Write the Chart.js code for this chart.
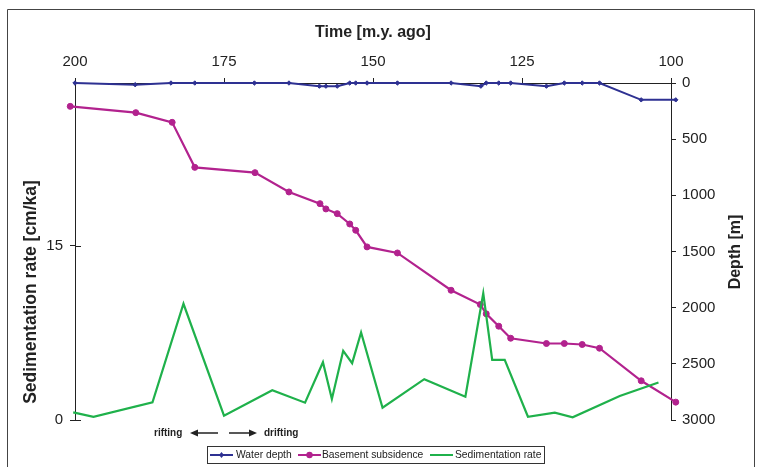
<!DOCTYPE html>
<html>
<head>
<meta charset="utf-8">
<script src="https://cdn.jsdelivr.net/npm/chart.js@4"></script>
<style>
    html, body { margin: 0; padding: 0; background: #fff; }
    #wrap { width: 760px; height: 467px; position: relative; }
</style>
</head>
<body>
<div id="wrap"><canvas id="chart" width="760" height="467"></canvas></div>
<script>
// Time of each sample (m.y. ago) and values
const waterTime = [200, 189.9, 183.9, 179.9, 169.9, 164.1, 159.0, 157.9, 156.0, 153.9, 152.9, 151.0, 145.9, 136.9, 131.9, 131.0, 128.9, 126.9, 120.9, 117.9, 114.9, 112.0, 105.0, 99.2];
const waterDepth = [0, 15, 0, 0, 0, 0, 28, 28, 28, 0, 0, 0, 0, 0, 28, 0, 0, 0, 28, 0, 0, 0, 150, 150];

const subsTime = [200.8, 189.8, 183.7, 179.9, 169.8, 164.1, 158.9, 157.9, 156.0, 153.9, 152.9, 151.0, 145.9, 136.9, 132.0, 131.0, 128.9, 126.9, 120.9, 117.9, 114.9, 112.0, 105.0, 99.2];
const subsDepth = [208, 264, 350, 751, 798, 970, 1074, 1121, 1163, 1255, 1311, 1459, 1513, 1845, 1972, 2055, 2165, 2272, 2319, 2319, 2328, 2361, 2651, 2841];

const sedTime = [200.3, 196.9, 187.0, 181.8, 175.0, 166.9, 161.4, 158.4, 156.9, 155.0, 153.5, 152.0, 148.4, 141.4, 134.5, 131.5, 130.0, 127.9, 124.0, 119.5, 116.5, 108.6, 102.1];
const sedRate = [0.66, 0.28, 1.53, 10.0, 0.37, 2.56, 1.49, 4.97, 1.81, 5.95, 4.89, 7.53, 1.06, 3.51, 2.01, 10.9, 5.17, 5.17, 0.28, 0.63, 0.23, 2.07, 3.22];

const timeTicks = [200, 175, 150, 125, 100];
const depthTicks = [0, 500, 1000, 1500, 2000, 2500, 3000];
const rateTicks = [0, 15];

const seriesNames = ['Water depth', 'Basement subsidence', 'Sedimentation rate'];
const seriesColors = ['#2e3192', '#b2228e', '#1fb14b'];

const FONT = "'Liberation Sans', Arial, sans-serif";
const INK = '#222';

Chart.defaults.font.family = FONT;
Chart.defaults.color = INK;

function pairs(xs, ys) {
    return xs.map((x, i) => ({ x: x, y: ys[i] }));
}

// frame, titles, annotation and boxed legend
const extrasPlugin = {
    id: 'extras',
    afterDraw(chart) {
        const ctx = chart.ctx;
        ctx.save();

        // outer frame (open at the bottom)
        ctx.strokeStyle = '#444';
        ctx.lineWidth = 1;
        ctx.beginPath();
        ctx.moveTo(7.5, 467);
        ctx.lineTo(7.5, 9.5);
        ctx.lineTo(754.5, 9.5);
        ctx.lineTo(754.5, 467);
        ctx.stroke();

        // crossing tick marks on the left axis
        const ys = chart.scales.y;
        ctx.strokeStyle = INK;
        ctx.beginPath();
        rateTicks.forEach(v => {
            const py = Math.round(ys.getPixelForValue(v)) + 0.5;
            ctx.moveTo(75, py); ctx.lineTo(81, py);
        });
        ctx.stroke();

        // axis titles
        ctx.fillStyle = INK;
        ctx.font = 'bold 16px ' + FONT;
        ctx.textAlign = 'center';
        ctx.textBaseline = 'middle';
        ctx.fillText('Time [m.y. ago]', 373, 33);

        ctx.save();
        ctx.translate(31, 292);
        ctx.rotate(-Math.PI / 2);
        ctx.font = 'bold 17.5px ' + FONT;
        ctx.fillText('Sedimentation rate [cm/ka]', 0, 0);
        ctx.restore();

        ctx.save();
        ctx.translate(736, 252);
        ctx.rotate(-Math.PI / 2);
        ctx.font = 'bold 16px ' + FONT;
        ctx.fillText('Depth [m]', 0, 0);
        ctx.restore();

        // rifting / drifting annotation
        ctx.font = 'bold 10px ' + FONT;
        ctx.textAlign = 'left';
        ctx.fillText('rifting', 154, 433);
        ctx.fillText('drifting', 264, 433);
        ctx.strokeStyle = INK;
        ctx.lineWidth = 1.5;
        ctx.beginPath();
        ctx.moveTo(218, 433); ctx.lineTo(196, 433);
        ctx.moveTo(229, 433); ctx.lineTo(251, 433);
        ctx.stroke();
        ctx.beginPath();
        ctx.moveTo(190, 433); ctx.lineTo(198, 429.5); ctx.lineTo(198, 436.5); ctx.closePath();
        ctx.moveTo(257, 433); ctx.lineTo(249, 429.5); ctx.lineTo(249, 436.5); ctx.closePath();
        ctx.fillStyle = INK;
        ctx.fill();

        // legend box
        ctx.strokeStyle = '#333';
        ctx.lineWidth = 1;
        ctx.strokeRect(207.5, 446.5, 337, 17);
        const items = [
            { x: 210, tx: 236, marker: 'diamond' },
            { x: 298, tx: 322, marker: 'circle' },
            { x: 430, tx: 455, marker: 'none' }
        ];
        ctx.font = '10.3px ' + FONT;
        items.forEach((it, i) => {
            const y = 455;
            ctx.strokeStyle = seriesColors[i];
            ctx.fillStyle = seriesColors[i];
            ctx.lineWidth = 2;
            ctx.beginPath();
            ctx.moveTo(it.x, y); ctx.lineTo(it.x + 23, y);
            ctx.stroke();
            const cx = it.x + 11.5;
            if (it.marker === 'diamond') {
                ctx.beginPath();
                ctx.moveTo(cx, y - 3); ctx.lineTo(cx + 2.5, y); ctx.lineTo(cx, y + 3); ctx.lineTo(cx - 2.5, y);
                ctx.closePath(); ctx.fill();
            } else if (it.marker === 'circle') {
                ctx.beginPath();
                ctx.arc(cx, y, 3.2, 0, Math.PI * 2);
                ctx.fill();
            }
            ctx.fillStyle = INK;
            ctx.textBaseline = 'middle';
            ctx.fillText(seriesNames[i], it.tx, y + 0.5);
        });

        ctx.restore();
    }
};

const axisGrid = { display: true, drawOnChartArea: false, tickLength: 5, color: INK, lineWidth: 1 };
const axisBorder = { display: true, color: INK, width: 1 };
const tickFont = { size: 15, family: FONT };
const plainNumber = v => String(v);

const chart = new Chart(document.getElementById('chart').getContext('2d'), {
    type: 'line',
    data: {
        datasets: [
            {
                label: seriesNames[0],
                data: pairs(waterTime, waterDepth),
                yAxisID: 'y1',
                borderColor: seriesColors[0],
                backgroundColor: seriesColors[0],
                borderWidth: 2,
                pointStyle: 'rectRot',
                pointRadius: 2.2,
                pointBorderWidth: 1,
                tension: 0,
                clip: false,
                order: 3
            },
            {
                label: seriesNames[1],
                data: pairs(subsTime, subsDepth),
                yAxisID: 'y1',
                borderColor: seriesColors[1],
                backgroundColor: seriesColors[1],
                borderWidth: 2.2,
                pointStyle: 'circle',
                pointRadius: 3,
                pointBorderWidth: 1,
                tension: 0,
                clip: false,
                order: 2
            },
            {
                label: seriesNames[2],
                data: pairs(sedTime, sedRate),
                yAxisID: 'y',
                borderColor: seriesColors[2],
                backgroundColor: seriesColors[2],
                borderWidth: 2.2,
                pointRadius: 0,
                tension: 0,
                clip: false,
                order: 1
            }
        ]
    },
    options: {
        responsive: false,
        animation: false,
        events: [],
        layout: { padding: { left: 0, right: 0, top: 0, bottom: 47 } },
        plugins: {
            legend: { display: false },
            tooltip: { enabled: false }
        },
        scales: {
            x: {
                type: 'linear',
                position: 'top',
                reverse: true,
                min: 100,
                max: 200,
                afterBuildTicks: s => { s.ticks = timeTicks.map(v => ({ value: v })); },
                afterFit: s => { s.height = 83; },
                grid: axisGrid,
                border: axisBorder,
                ticks: { font: tickFont, padding: 7, maxRotation: 0, color: INK, callback: plainNumber }
            },
            y: {
                type: 'linear',
                position: 'left',
                min: 0,
                max: 29,
                afterBuildTicks: s => { s.ticks = rateTicks.map(v => ({ value: v })); },
                afterFit: s => { s.width = 75; },
                grid: axisGrid,
                border: axisBorder,
                ticks: { font: tickFont, padding: 7, color: INK, callback: plainNumber }
            },
            y1: {
                type: 'linear',
                position: 'right',
                reverse: true,
                min: 0,
                max: 3000,
                afterBuildTicks: s => { s.ticks = depthTicks.map(v => ({ value: v })); },
                afterFit: s => { s.width = 89; },
                grid: axisGrid,
                border: axisBorder,
                ticks: { font: tickFont, padding: 6, color: INK, callback: plainNumber }
            }
        }
    },
    plugins: [extrasPlugin]
});
</script>
</body>
</html>
